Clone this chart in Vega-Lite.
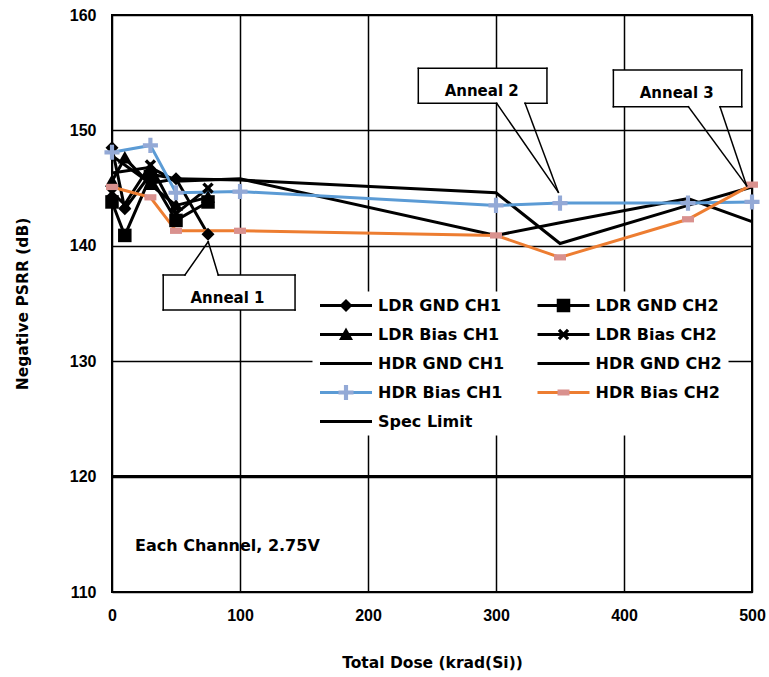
{
  "$schema": "https://vega.github.io/schema/vega-lite/v6.json",
  "width": 640,
  "height": 577,
  "autosize": "none",
  "padding": {"left": 112, "top": 15, "right": 17, "bottom": 85},
  "background": "white",
  "config": {
    "view": {"stroke": "black", "strokeWidth": 2},
    "font": "DejaVu Sans",
    "axis": {
      "grid": true, "gridColor": "black", "gridWidth": 1.5, "gridOpacity": 1,
      "domain": false, "ticks": false, "tickCount": 5, "labelFlush": false, "labelOverlap": false,
      "labelFont": "Liberation Sans", "labelFontWeight": "bold", "labelFontSize": 16, "labelColor": "black",
      "titleFont": "DejaVu Sans", "titleFontWeight": "bold", "titleFontSize": 15.5, "titleColor": "black"
    },
    "axisX": {"labelPadding": 15, "titlePadding": 32},
    "axisY": {"labelPadding": 16, "titlePadding": 39}
  },
  "datasets": {
    "series": [
      {"s": "LDR GND CH1", "dose": 0, "v": 148.5},
      {"s": "LDR GND CH1", "dose": 10, "v": 143.2},
      {"s": "LDR GND CH1", "dose": 30, "v": 146.2},
      {"s": "LDR GND CH1", "dose": 50, "v": 145.8},
      {"s": "LDR GND CH1", "dose": 75, "v": 141.0},
      {"s": "LDR GND CH2", "dose": 0, "v": 143.8},
      {"s": "LDR GND CH2", "dose": 10, "v": 140.9},
      {"s": "LDR GND CH2", "dose": 30, "v": 146.0},
      {"s": "LDR GND CH2", "dose": 50, "v": 142.2},
      {"s": "LDR GND CH2", "dose": 75, "v": 143.8},
      {"s": "LDR Bias CH1", "dose": 0, "v": 145.6},
      {"s": "LDR Bias CH1", "dose": 10, "v": 147.6},
      {"s": "LDR Bias CH1", "dose": 30, "v": 145.3},
      {"s": "LDR Bias CH1", "dose": 50, "v": 143.5},
      {"s": "LDR Bias CH1", "dose": 75, "v": 144.2},
      {"s": "LDR Bias CH2", "dose": 0, "v": 144.6},
      {"s": "LDR Bias CH2", "dose": 10, "v": 143.6},
      {"s": "LDR Bias CH2", "dose": 30, "v": 147.0},
      {"s": "LDR Bias CH2", "dose": 50, "v": 142.8},
      {"s": "LDR Bias CH2", "dose": 75, "v": 145.0},
      {"s": "HDR GND CH1", "dose": 0, "v": 147.8},
      {"s": "HDR GND CH1", "dose": 30, "v": 145.4},
      {"s": "HDR GND CH1", "dose": 50, "v": 145.8},
      {"s": "HDR GND CH1", "dose": 100, "v": 145.7},
      {"s": "HDR GND CH1", "dose": 300, "v": 144.6},
      {"s": "HDR GND CH1", "dose": 350, "v": 140.2},
      {"s": "HDR GND CH1", "dose": 450, "v": 143.5},
      {"s": "HDR GND CH1", "dose": 500, "v": 145.1},
      {"s": "HDR GND CH2", "dose": 0, "v": 146.3},
      {"s": "HDR GND CH2", "dose": 30, "v": 146.8},
      {"s": "HDR GND CH2", "dose": 50, "v": 145.6},
      {"s": "HDR GND CH2", "dose": 100, "v": 145.8},
      {"s": "HDR GND CH2", "dose": 300, "v": 140.9},
      {"s": "HDR GND CH2", "dose": 350, "v": 142.0},
      {"s": "HDR GND CH2", "dose": 450, "v": 144.1},
      {"s": "HDR GND CH2", "dose": 500, "v": 142.1},
      {"s": "Spec Limit", "dose": 0, "v": 120},
      {"s": "Spec Limit", "dose": 500, "v": 120},
      {"s": "HDR Bias CH1", "dose": 0, "v": 148.1},
      {"s": "HDR Bias CH1", "dose": 30, "v": 148.7},
      {"s": "HDR Bias CH1", "dose": 50, "v": 144.6},
      {"s": "HDR Bias CH1", "dose": 100, "v": 144.7},
      {"s": "HDR Bias CH1", "dose": 300, "v": 143.5},
      {"s": "HDR Bias CH1", "dose": 350, "v": 143.7},
      {"s": "HDR Bias CH1", "dose": 450, "v": 143.7},
      {"s": "HDR Bias CH1", "dose": 500, "v": 143.8},
      {"s": "HDR Bias CH2", "dose": 0, "v": 145.1},
      {"s": "HDR Bias CH2", "dose": 30, "v": 144.2},
      {"s": "HDR Bias CH2", "dose": 50, "v": 141.3},
      {"s": "HDR Bias CH2", "dose": 100, "v": 141.3},
      {"s": "HDR Bias CH2", "dose": 300, "v": 140.9},
      {"s": "HDR Bias CH2", "dose": 350, "v": 139.0},
      {"s": "HDR Bias CH2", "dose": 450, "v": 142.3},
      {"s": "HDR Bias CH2", "dose": 500, "v": 145.3}
    ],
    "boxes": [
      {"x1": 40, "x2": 143, "y1": 137.47, "y2": 134.44},
      {"x1": 239.3, "x2": 339.8, "y1": 155.38, "y2": 152.35},
      {"x1": 391.7, "x2": 492.0, "y1": 155.23, "y2": 152.05}
    ],
    "segs": [
      {"x1": 40, "y1": 134.44, "x2": 40, "y2": 137.47},
      {"x1": 143, "y1": 134.44, "x2": 143, "y2": 137.47},
      {"x1": 40, "y1": 134.44, "x2": 143, "y2": 134.44},
      {"x1": 40, "y1": 137.47, "x2": 57, "y2": 137.47},
      {"x1": 83, "y1": 137.47, "x2": 143, "y2": 137.47},
      {"x1": 57, "y1": 137.47, "x2": 75.2, "y2": 140.36},
      {"x1": 83, "y1": 137.47, "x2": 75.2, "y2": 140.36},
      {"x1": 239.3, "y1": 152.35, "x2": 239.3, "y2": 155.38},
      {"x1": 339.8, "y1": 152.35, "x2": 339.8, "y2": 155.38},
      {"x1": 239.3, "y1": 155.38, "x2": 339.8, "y2": 155.38},
      {"x1": 239.3, "y1": 152.35, "x2": 300.5, "y2": 152.35},
      {"x1": 322.7, "y1": 152.35, "x2": 339.8, "y2": 152.35},
      {"x1": 300.5, "y1": 152.35, "x2": 348.7, "y2": 144.64},
      {"x1": 322.7, "y1": 152.35, "x2": 348.7, "y2": 144.64},
      {"x1": 391.7, "y1": 152.05, "x2": 391.7, "y2": 155.23},
      {"x1": 492.0, "y1": 152.05, "x2": 492.0, "y2": 155.23},
      {"x1": 391.7, "y1": 155.23, "x2": 492.0, "y2": 155.23},
      {"x1": 391.7, "y1": 152.05, "x2": 450.3, "y2": 152.05},
      {"x1": 475.0, "y1": 152.05, "x2": 492.0, "y2": 152.05},
      {"x1": 450.3, "y1": 152.05, "x2": 495.8, "y2": 145.2},
      {"x1": 475.0, "y1": 152.05, "x2": 495.8, "y2": 145.2}
    ],
    "labels": [
      {"t": "Anneal 1", "x": 90.2, "y": 135.45},
      {"t": "Anneal 2", "x": 288.8, "y": 153.43},
      {"t": "Anneal 3", "x": 441.2, "y": 153.28}
    ],
    "note": [
      {"t": "Each Channel, 2.75V", "x": 18.0, "y": 114.0}
    ]
  },
  "layer": [
    {
      "data": {"name": "series"},
      "mark": {"type": "line", "strokeWidth": 3},
      "encoding": {
        "x": {"field": "dose", "type": "quantitative", "title": "Total Dose (krad(Si))",
              "scale": {"domain": [0, 500], "nice": false}},
        "y": {"field": "v", "type": "quantitative", "title": "Negative PSRR (dB)",
              "scale": {"domain": [110, 160], "nice": false, "zero": false}},
        "stroke": {"field": "s", "type": "nominal",
          "scale": {
            "domain": ["Spec Limit", "HDR Bias CH2", "HDR Bias CH1", "HDR GND CH2", "HDR GND CH1", "LDR Bias CH2", "LDR Bias CH1", "LDR GND CH2", "LDR GND CH1"],
            "range": ["black", "#ED7D31", "#5B9BD5", "black", "black", "black", "black", "black", "black"]
          },
          "legend": {"orient": "none", "legendX": 200.5, "legendY": 276.5, "columns": 2, "direction": "horizontal", "title": null,
            "values": ["LDR GND CH1", "LDR GND CH2", "LDR Bias CH1", "LDR Bias CH2", "HDR GND CH1", "HDR GND CH2", "HDR Bias CH1", "HDR Bias CH2", "Spec Limit"],
            "symbolType": "stroke", "symbolSize": 2704, "symbolStrokeWidth": 3, "clipHeight": 16,
            "labelFont": "DejaVu Sans", "labelFontSize": 16, "labelFontWeight": "bold", "labelColor": "black",
            "labelOffset": 4.5, "symbolOffset": 0, "rowPadding": 13, "columnPadding": 31.5, "padding": 6,
            "fillColor": "white"}
        }
      }
    },
    {
      "data": {"name": "series"},
      "transform": [{"filter": "datum.s != 'HDR GND CH1' && datum.s != 'HDR GND CH2' && datum.s != 'Spec Limit'"}],
      "mark": {"type": "point", "filled": true, "size": 2704, "opacity": 1, "strokeWidth": 0},
      "encoding": {
        "x": {"field": "dose", "type": "quantitative", "title": "Total Dose (krad(Si))"},
        "y": {"field": "v", "type": "quantitative", "title": "Negative PSRR (dB)"},
        "shape": {"field": "s", "type": "nominal",
          "scale": {
            "domain": ["LDR GND CH1", "LDR GND CH2", "LDR Bias CH1", "LDR Bias CH2", "HDR GND CH1", "HDR GND CH2", "HDR Bias CH1", "HDR Bias CH2", "Spec Limit"],
            "range": [
              "M0,-0.25L0.25,0L0,0.25L-0.25,0Z",
              "M-0.26,-0.26H0.26V0.26H-0.26Z",
              "M0,-0.27L0.27,0.21H-0.27Z",
              "M-0.22,-0.13L-0.13,-0.22L0,-0.09L0.13,-0.22L0.22,-0.13L0.09,0L0.22,0.13L0.13,0.22L0,0.09L-0.13,0.22L-0.22,0.13L-0.09,0Z",
              "M0,0L0,0Z",
              "M0,0L0,0Z",
              "M-0.08,-0.29H0.08V-0.08H0.29V0.08H0.08V0.29H-0.08V0.08H-0.29V-0.08H-0.08Z",
              "M-0.23,-0.12H0.23V0.12H-0.23Z",
              "M0,0L0,0Z"
            ]
          },
          "legend": {"orient": "none", "legendX": 200.5, "legendY": 276.5, "columns": 2, "direction": "horizontal", "title": null,
            "symbolSize": 2704, "symbolStrokeWidth": 3, "symbolStrokeColor": "transparent", "clipHeight": 16,
            "labelFont": "DejaVu Sans", "labelFontSize": 16, "labelFontWeight": "bold", "labelOpacity": 0,
            "labelOffset": 4.5, "symbolOffset": 0, "rowPadding": 13, "columnPadding": 31.5, "padding": 6}
        },
        "fill": {"field": "s", "type": "nominal",
          "scale": {
            "domain": ["LDR GND CH1", "LDR GND CH2", "LDR Bias CH1", "LDR Bias CH2", "HDR GND CH1", "HDR GND CH2", "HDR Bias CH1", "HDR Bias CH2", "Spec Limit"],
            "range": ["black", "black", "black", "black", "transparent", "transparent", "#93A9D6", "#D9918E", "transparent"]
          },
          "legend": {"orient": "none", "legendX": 200.5, "legendY": 276.5, "columns": 2, "direction": "horizontal", "title": null,
            "symbolSize": 2704, "symbolStrokeWidth": 3, "symbolStrokeColor": "transparent", "clipHeight": 16,
            "labelFont": "DejaVu Sans", "labelFontSize": 16, "labelFontWeight": "bold", "labelOpacity": 0,
            "labelOffset": 4.5, "symbolOffset": 0, "rowPadding": 13, "columnPadding": 31.5, "padding": 6}
        }
      }
    },
    {
      "data": {"name": "boxes"},
      "mark": {"type": "rect", "fill": "white", "stroke": null},
      "encoding": {
        "x": {"field": "x1", "type": "quantitative", "title": "Total Dose (krad(Si))"},
        "x2": {"field": "x2"},
        "y": {"field": "y1", "type": "quantitative", "title": "Negative PSRR (dB)"},
        "y2": {"field": "y2"}
      }
    },
    {
      "data": {"name": "segs"},
      "mark": {"type": "rule", "color": "black", "strokeWidth": 1.5, "strokeCap": "square"},
      "encoding": {
        "x": {"field": "x1", "type": "quantitative", "title": "Total Dose (krad(Si))"},
        "x2": {"field": "x2"},
        "y": {"field": "y1", "type": "quantitative", "title": "Negative PSRR (dB)"},
        "y2": {"field": "y2"}
      }
    },
    {
      "data": {"name": "labels"},
      "mark": {"type": "text", "font": "DejaVu Sans", "fontWeight": "bold", "fontSize": 15, "color": "black", "align": "center", "baseline": "middle"},
      "encoding": {
        "x": {"field": "x", "type": "quantitative", "title": "Total Dose (krad(Si))"},
        "y": {"field": "y", "type": "quantitative", "title": "Negative PSRR (dB)"},
        "text": {"field": "t"}
      }
    },
    {
      "data": {"name": "note"},
      "mark": {"type": "text", "font": "DejaVu Sans", "fontWeight": "bold", "fontSize": 16, "color": "black", "align": "left", "baseline": "middle"},
      "encoding": {
        "x": {"field": "x", "type": "quantitative", "title": "Total Dose (krad(Si))"},
        "y": {"field": "y", "type": "quantitative", "title": "Negative PSRR (dB)"},
        "text": {"field": "t"}
      }
    }
  ]
}
